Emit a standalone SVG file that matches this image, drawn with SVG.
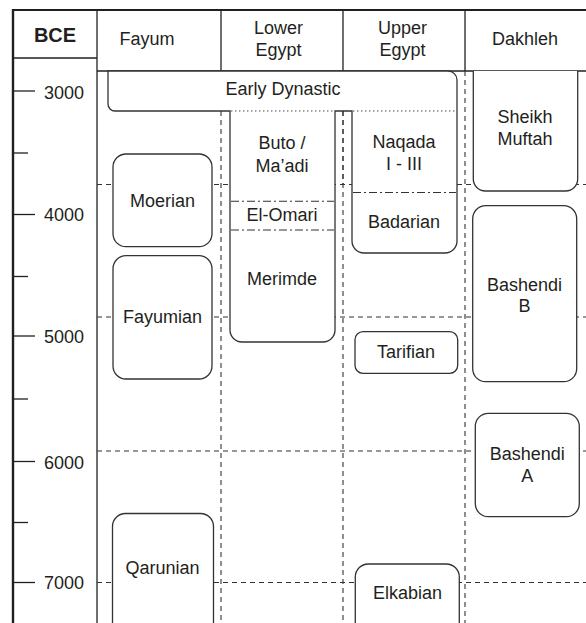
<svg xmlns="http://www.w3.org/2000/svg" width="586" height="623" viewBox="0 0 586 623">
<style>
text{font-family:"Liberation Sans",Arial,sans-serif;font-size:18px;fill:#231f20;text-anchor:middle}
.num{text-anchor:start}
.bold{font-weight:bold;font-size:20px}
.frame{stroke:#231f20;fill:none}
.dash{stroke:#333;stroke-width:1.1;stroke-dasharray:5,4;fill:none}
.box{stroke:#333;stroke-width:1.3;fill:#fff}
.dot{stroke:#444;stroke-width:1.1;stroke-dasharray:1.4,2.6;fill:none}
.dd{stroke:#333;stroke-width:1.1;stroke-dasharray:8,3,2,3;fill:none}
</style>
<rect width="586" height="623" fill="#fff"/>
<g id="frame">
<line class="frame" x1="12" y1="10" x2="586" y2="10" stroke-width="2"/>
<line class="frame" x1="13" y1="9" x2="13" y2="623" stroke-width="2.4"/>
<line class="frame" x1="97" y1="10" x2="97" y2="623" stroke-width="1.3"/>
<line class="frame" x1="13" y1="58" x2="97" y2="58" stroke-width="1.3"/>
<line class="frame" x1="97" y1="71" x2="586" y2="71" stroke-width="1.3"/>
<line class="frame" x1="221" y1="10" x2="221" y2="71" stroke-width="1.3"/>
<line class="frame" x1="343" y1="10" x2="343" y2="71" stroke-width="1.3"/>
<line class="frame" x1="465" y1="10" x2="465" y2="71" stroke-width="1.3"/>
</g>
<g id="headers">
<text class="bold" x="55" y="41.7">BCE</text>
<text x="147" y="45">Fayum</text>
<text x="278.5" y="34.3">Lower</text>
<text x="278.5" y="56">Egypt</text>
<text x="402.5" y="34.3">Upper</text>
<text x="402.5" y="56">Egypt</text>
<text x="525" y="45">Dakhleh</text>
</g>
<g id="scale">
<g class="frame" stroke-width="1.3">
<line x1="13" y1="91" x2="35" y2="91"/>
<line x1="13" y1="153" x2="28" y2="153"/>
<line x1="13" y1="214.5" x2="35" y2="214.5"/>
<line x1="13" y1="276.5" x2="28" y2="276.5"/>
<line x1="13" y1="336" x2="35" y2="336"/>
<line x1="13" y1="399" x2="28" y2="399"/>
<line x1="13" y1="461.5" x2="35" y2="461.5"/>
<line x1="13" y1="522.5" x2="28" y2="522.5"/>
<line x1="13" y1="582.5" x2="35" y2="582.5"/>
</g>
<text class="num" x="44" y="98.5">3000</text>
<text class="num" x="44" y="221">4000</text>
<text class="num" x="44" y="343">5000</text>
<text class="num" x="44" y="468.5">6000</text>
<text class="num" x="44" y="589">7000</text>
</g>
<g id="grid">
<line class="dash" x1="221" y1="111" x2="221" y2="623"/>
<line class="dash" x1="343" y1="111" x2="343" y2="623"/>
<line class="dash" x1="465" y1="71" x2="465" y2="623"/>
<line class="dash" x1="97" y1="184.5" x2="586" y2="184.5"/>
<line class="dash" x1="97" y1="317" x2="586" y2="317"/>
<line class="dash" x1="97" y1="451" x2="586" y2="451"/>
<line class="dash" x1="97" y1="582.5" x2="586" y2="582.5"/>
</g>
<g id="early-dynastic">
<path class="box" d="M108,71 V104 A7,7 0 0 0 115,111 H230 V330 A12,12 0 0 0 242,342 H323 A12,12 0 0 0 335,330 V111 H352 V241 A12,12 0 0 0 364,253 H445 A12,12 0 0 0 457,241 V80 A9,9 0 0 0 448,71 Z"/>
<line class="dot" x1="231" y1="111" x2="335" y2="111"/>
<line class="dot" x1="353" y1="111" x2="456" y2="111"/>
<line class="dash" x1="343" y1="111" x2="343" y2="184"/>
<text x="283" y="95">Early Dynastic</text>
</g>
<g id="buto">
<text x="282" y="149.3">Buto /</text>
<text x="282" y="171.7">Ma’adi</text>
</g>
<g id="el-omari">
<line class="dd" x1="231" y1="201.3" x2="334" y2="201.3"/>
<line class="dd" x1="231" y1="230" x2="334" y2="230"/>
<text x="282" y="220.5">El-Omari</text>
</g>
<g id="merimde">
<text x="282" y="285">Merimde</text>
</g>
<g id="naqada">
<text x="404" y="148.3">Naqada</text>
<text x="404" y="170">I - III</text>
<line class="dd" x1="353" y1="192.5" x2="456" y2="192.5"/>
</g>
<g id="badarian">
<text x="404" y="228.3">Badarian</text>
</g>
<g id="sheikh-muftah">
<path class="box" d="M473.3,71 V179 A12,12 0 0 0 485.3,191 H565.7 A12,12 0 0 0 577.7,179 V71"/>
<text x="525" y="122.7">Sheikh</text>
<text x="525" y="145">Muftah</text>
</g>
<g id="moerian">
<rect class="box" x="113" y="154" width="99" height="92.7" rx="13"/>
<text x="162.5" y="207.3">Moerian</text>
</g>
<g id="fayumian">
<rect class="box" x="113" y="255.7" width="99" height="123.3" rx="13"/>
<text x="162.5" y="323.3">Fayumian</text>
</g>
<g id="qarunian">
<path class="box" d="M112.5,630 V526.5 A13,13 0 0 1 125.5,513.5 H200.5 A13,13 0 0 1 213.5,526.5 V630"/>
<text x="162.5" y="574">Qarunian</text>
</g>
<g id="tarifian">
<rect class="box" x="355" y="331.7" width="102.7" height="41.6" rx="8"/>
<text x="406" y="358.3">Tarifian</text>
</g>
<g id="elkabian">
<path class="box" d="M355.3,630 V577 A13,13 0 0 1 368.3,564 H446.3 A13,13 0 0 1 459.3,577 V630"/>
<text x="407.5" y="599">Elkabian</text>
</g>
<g id="bashendi-b">
<rect class="box" x="472.7" y="205.7" width="104" height="176" rx="13"/>
<text x="524.5" y="290.7">Bashendi</text>
<text x="524.5" y="311.7">B</text>
</g>
<g id="bashendi-a">
<rect class="box" x="475.3" y="413.3" width="104" height="103.4" rx="13"/>
<text x="527.3" y="460">Bashendi</text>
<text x="527.3" y="481.7">A</text>
</g>
</svg>
